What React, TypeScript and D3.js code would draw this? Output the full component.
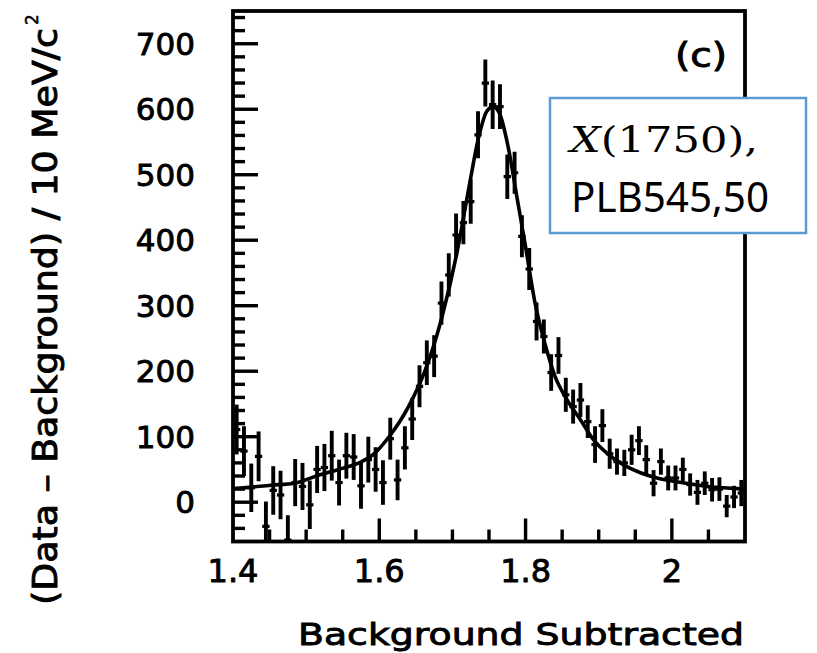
import React from 'react';
import * as d3 from 'd3';

// Bin centres (GeV/c^2), 10 MeV bins
const binCenters = [
  1.405, 1.415, 1.425, 1.435, 1.445, 1.455, 1.465, 1.475, 1.485, 1.495,
  1.505, 1.515, 1.525, 1.535, 1.545, 1.555, 1.565, 1.575, 1.585, 1.595,
  1.605, 1.615, 1.625, 1.635, 1.645, 1.655, 1.665, 1.675, 1.685, 1.695,
  1.705, 1.715, 1.725, 1.735, 1.745, 1.755, 1.765, 1.775, 1.785, 1.795,
  1.805, 1.815, 1.825, 1.835, 1.845, 1.855, 1.865, 1.875, 1.885, 1.895,
  1.905, 1.915, 1.925, 1.935, 1.945, 1.955, 1.965, 1.975, 1.985, 1.995,
  2.005, 2.015, 2.025, 2.035, 2.045, 2.055, 2.065, 2.075, 2.085, 2.095,
];

// Background-subtracted counts per bin
const counts = [
  111, 78, 22, 70, -37, 18, 11, -58, 30, 24,
  -4, 50, 53, 71, 30, 71, 69, 25, 65, 50,
  30, 97, 34, 83, 127, 177, 213, 223, 304, 347,
  408, 427, 459, 561, 640, 607, 604, 497, 503, 406,
  356, 276, 253, 198, 224, 164, 146, 156, 123, 88,
  117, 74, 62, 60, 80, 94, 65, 29, 62, 37,
  37, 50, 27, 15, 29, 19, 20, -6, 8, 14,
];

// Statistical errors per bin
const errors = [
  38, 38, 37, 38, 38, 37, 37, 38, 36, 36,
  37, 36, 36, 38, 35, 35, 35, 35, 35, 34,
  34, 32, 31, 33, 32, 32, 34, 32, 33, 33,
  33, 33, 34, 36, 36, 37, 34, 34, 32, 32,
  32, 29, 26, 28, 28, 26, 26, 26, 25, 28,
  25, 23, 20, 20, 23, 22, 22, 20, 20, 19,
  19, 18, 17, 19, 18, 18, 18, 17, 17, 20,
];

// Fit curve
const fitMass = [
  1.4, 1.414, 1.452, 1.484, 1.514, 1.544, 1.576, 1.594, 1.612, 1.64,
  1.663, 1.686, 1.706, 1.722, 1.736, 1.747, 1.756, 1.765, 1.777, 1.788,
  1.8, 1.813, 1.827, 1.84, 1.857, 1.875, 1.893, 1.911, 1.934, 1.957,
  1.98, 2.002, 2.025, 2.048, 2.071, 2.1,
];
const fitValue = [
  21, 22, 26, 29, 40, 50, 62, 75, 98, 146,
  202, 284, 380, 477, 558, 597, 604, 592, 538, 467,
  390, 304, 240, 193, 156, 126, 95, 75, 57, 45,
  37, 32, 28, 24, 22, 20,
];

const yTickLabels = ['0', '100', '200', '300', '400', '500', '600', '700'];
const xTickLabels = ['1.4', '1.6', '1.8', '2'];

const xTitle = 'Background Subtracted';
const yTitle = '(Data \u2013 Background) / 10 MeV/c';
const panelLabel = '(c)';
const noteLine1 = ['X', '(1750),'];
const noteLine2 = 'PLB545,50';

export default function App() {
  const W = 817;
  const H = 653;
  const left = 233;
  const right = 745;
  const top = 11;
  const bottom = 541.5;

  const x = d3.scaleLinear().domain([1.4, 2.1]).range([left, right]);
  const y = d3.scaleLinear().domain([-60, 750]).range([bottom, top]);

  const halfBin = 0.005;

  const line = d3
    .line<number>()
    .x((_, i) => x(fitMass[i]))
    .y((d) => y(d))
    .curve(d3.curveMonotoneX);

  const yMinor = d3.range(-2, 38).map((k) => k * 20);
  const xMinor = d3.range(29, 42).map((k) => k * 0.05);

  const font = "'DejaVu Sans', sans-serif";
  const bold = { stroke: '#000', strokeWidth: 0.9 };

  return (
    <svg
      width={W}
      height={H}
      viewBox={`0 0 ${W} ${H}`}
      style={{ position: 'absolute', left: 0, top: 0, background: '#fff' }}
    >
      <defs>
        <clipPath id="plotClip">
          <rect x={left} y={top} width={right - left} height={bottom - top} />
        </clipPath>
      </defs>
      <rect x={0} y={0} width={W} height={H} fill="#fff" />

      {/* y ticks */}
      {yMinor.map((v) => {
        const long = v % 100 === 0;
        return (
          <line
            key={'yt' + v}
            x1={left}
            x2={left + (long ? 25 : 12)}
            y1={y(v)}
            y2={y(v)}
            stroke="#000"
            strokeWidth={3.4}
          />
        );
      })}
      {/* x ticks */}
      {xMinor.map((v, i) => {
        const k = Math.round(v * 100);
        const long = k % 20 === 0;
        return (
          <line
            key={'xt' + i}
            x1={x(v)}
            x2={x(v)}
            y1={bottom}
            y2={bottom - (long ? 23 : 12)}
            stroke="#000"
            strokeWidth={3.4}
          />
        );
      })}

      {/* data */}
      <g clipPath="url(#plotClip)" stroke="#000" strokeWidth={3.9} fill="none">
        {binCenters.map((c, i) => (
          <g key={'p' + i}>
            <line x1={x(c)} x2={x(c)} y1={y(counts[i] - errors[i])} y2={y(counts[i] + errors[i])} />
            <line x1={x(c - halfBin)} x2={x(c + halfBin)} y1={y(counts[i])} y2={y(counts[i])} strokeWidth={3.2} />
          </g>
        ))}
        <path d={line(fitValue) || ''} strokeWidth={3.6} strokeLinejoin="round" />
      </g>

      {/* frame */}
      <rect
        x={left}
        y={top}
        width={right - left}
        height={bottom - top}
        fill="none"
        stroke="#000"
        strokeWidth={3.8}
      />

      {/* y tick labels */}
      {yTickLabels.map((t) => (
        <text
          key={'yl' + t}
          x={195}
          y={y(+t) + 11}
          textAnchor="end"
          fontFamily={font}
          fontSize={31}
          fill="#000"
          {...bold}
        >
          {t}
        </text>
      ))}
      {/* x tick labels */}
      {xTickLabels.map((t) => (
        <text
          key={'xl' + t}
          x={x(+t)}
          y={582}
          textAnchor="middle"
          fontFamily={font}
          fontSize={32}
          fill="#000"
          {...bold}
        >
          {t}
        </text>
      ))}

      {/* axis titles */}
      <text
        x={298}
        y={645}
        fontFamily={font}
        fontSize={31}
        textLength={446}
        lengthAdjust="spacingAndGlyphs"
        fill="#000"
        {...bold}
      >
        {xTitle}
      </text>
      <g transform="translate(57,605) rotate(-90)">
        <text
          x={0}
          y={0}
          fontFamily={font}
          fontSize={33}
          textLength={577}
          lengthAdjust="spacingAndGlyphs"
          fill="#000"
          {...bold}
        >
          {yTitle}
        </text>
        <text x={580} y={-19} fontFamily={font} fontSize={17} fill="#000" stroke="#000" strokeWidth={0.5}>
          2
        </text>
      </g>

      {/* panel label */}
      <text
        x={727}
        y={67}
        textAnchor="end"
        fontFamily={font}
        fontSize={33}
        textLength={52}
        lengthAdjust="spacingAndGlyphs"
        fill="#000"
        {...bold}
      >
        {panelLabel}
      </text>

      {/* annotation box */}
      <rect x={550} y={98} width={256} height={135} fill="#fff" stroke="#5B9BD5" strokeWidth={2.5} />
      <text
        x={570}
        y={152}
        fontFamily="'DejaVu Serif', 'Liberation Serif', serif"
        fontSize={36}
        textLength={188}
        lengthAdjust="spacingAndGlyphs"
        fill="#000"
      >
        <tspan fontStyle="italic">{noteLine1[0]}</tspan>
        <tspan>{noteLine1[1]}</tspan>
      </text>
      <text
        x={571}
        y={212}
        fontFamily="'Noto Sans', 'Open Sans', sans-serif"
        fontSize={41}
        textLength={198}
        lengthAdjust="spacingAndGlyphs"
        fill="#000"
      >
        {noteLine2}
      </text>
    </svg>
  );
}
